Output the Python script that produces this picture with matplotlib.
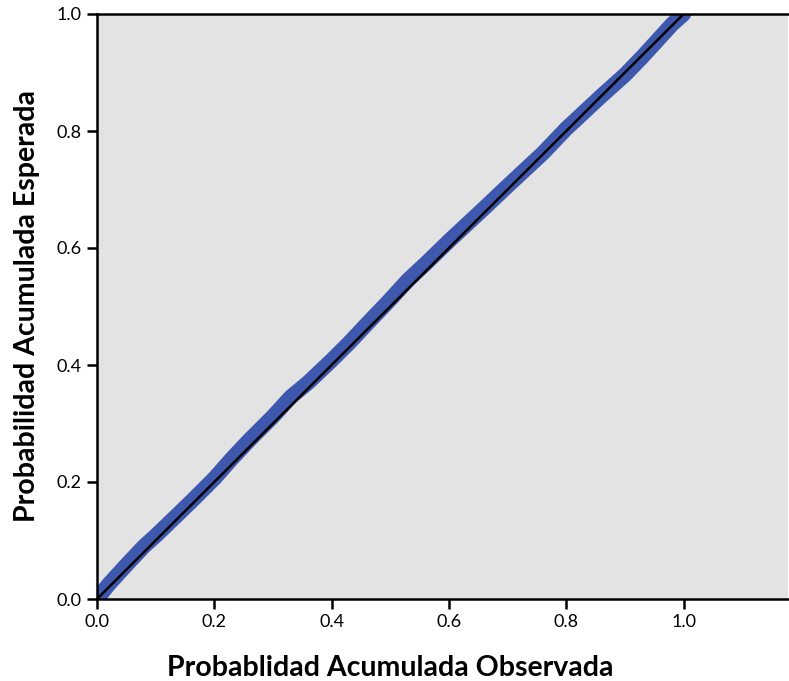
import matplotlib
matplotlib.use("Agg")
import matplotlib.pyplot as plt

observed = [0.00, 0.02, 0.05, 0.08, 0.10, 0.13, 0.16, 0.20, 0.23, 0.26, 0.30,
            0.33, 0.36, 0.40, 0.43, 0.46, 0.50, 0.53, 0.56, 0.60, 0.63, 0.66,
            0.70, 0.73, 0.76, 0.80, 0.83, 0.86, 0.90, 0.93, 0.96, 0.98, 1.00]
expected = [0.000, 0.025, 0.058, 0.090, 0.108, 0.137, 0.166, 0.206, 0.240, 0.272, 0.312,
            0.345, 0.370, 0.408, 0.438, 0.470, 0.512, 0.545, 0.573, 0.612, 0.640, 0.668,
            0.706, 0.734, 0.762, 0.804, 0.832, 0.860, 0.896, 0.927, 0.960, 0.982, 1.000]
ref_line = [0.0, 1.0]
xticks = [0.0, 0.2, 0.4, 0.6, 0.8, 1.0]
yticks = [0.0, 0.2, 0.4, 0.6, 0.8, 1.0]

plt.rcParams['font.family'] = ['Lato', 'DejaVu Sans']

fig = plt.figure(figsize=(7.89, 6.81), dpi=100)
ax = fig.add_axes([97/789, 1-599/681, (788-97)/789, (599-14)/681])
ax.set_facecolor('#e3e3e3')

ax.plot(observed, expected, color='#3d58ad', linewidth=11, solid_capstyle='round',
        solid_joinstyle='round', zorder=2)
ax.plot(ref_line, ref_line, color='black', linewidth=1.8, zorder=3)

ax.set_xlim(0, 1.178)
ax.set_ylim(0, 1.0)
ax.set_xticks(xticks)
ax.set_yticks(yticks)
ax.set_xticklabels([f"{v:.1f}" for v in xticks])
ax.set_yticklabels([f"{v:.1f}" for v in yticks])
ax.tick_params(direction='out', length=7, width=1.8, labelsize=13, pad=4)

for s in ['left', 'bottom', 'top']:
    ax.spines[s].set_linewidth(1.8)
ax.spines['right'].set_visible(False)

ax.set_xlabel('Probablidad Acumulada Observada', fontsize=20.5, fontweight='bold')
ax.xaxis.set_label_coords((390-97)/(788-97), -(655-599)/(599-14), transform=ax.transAxes)
ax.xaxis.label.set_va('top')
ax.set_ylabel('Probabilidad Acumulada Esperada', fontsize=20.5, fontweight='bold', labelpad=12)

fig.savefig('out.png', dpi=100)
